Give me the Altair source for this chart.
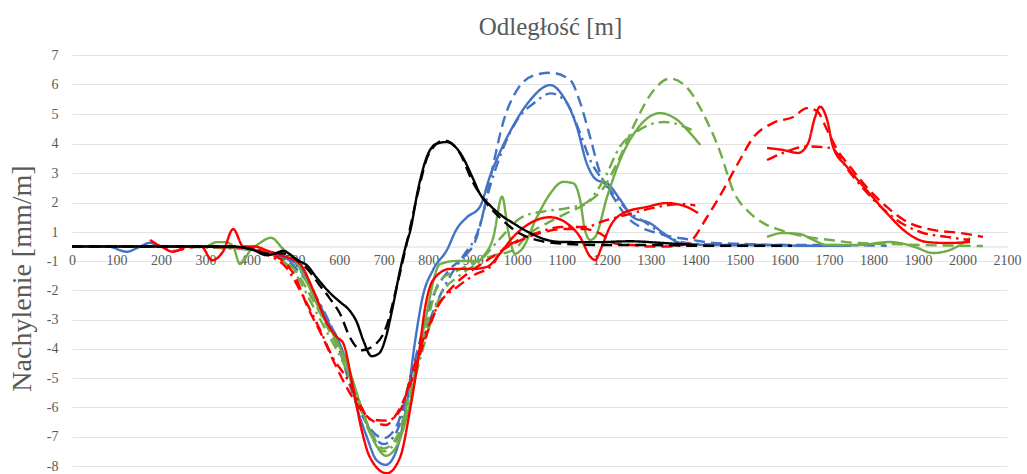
import altair as alt
import pandas as pd

# ---- x ticks / y ticks ----
X_TICKS = list(range(0, 2101, 100))
Y_TICKS = [7, 6, 5, 4, 3, 2, 1, -1, -2, -3, -4, -5, -6, -7, -8]

# ---- black ----
BS_X = [0, 100, 200, 300, 362, 407, 437, 455, 474, 490, 505, 527, 550, 580, 602, 624, 640, 654, 673, 690, 705, 720, 737, 752, 759, 778, 797, 820, 842, 871, 901, 916, 939, 961, 991, 1029, 1067, 1103, 1179, 1253, 1328, 1404]
BS_Y = [0, 0, 0, 0, 0, -0.24, -0.6, -0.5, -0.3, -0.55, -0.93, -1.14, -1.58, -2.1, -2.4, -2.7, -3.1, -3.7, -4.25, -4.15, -3.6, -2.6, -1.3, 0.3, 1.0, 2.5, 3.55, 4.0, 4.05, 3.7, 2.8, 2.3, 1.9, 1.6, 1.3, 0.93, 0.45, 0.31, 0.3, 0.36, 0.24, 0.1]
BD_X = [0, 100, 200, 300, 362, 407, 437, 460, 480, 505, 530, 555, 580, 602, 624, 651, 677, 707, 729, 752, 778, 800, 835, 870, 900, 930, 960, 1000, 1050, 1100, 1200, 1300, 1400, 1500, 1617]
BD_Y = [0, 0, 0, 0, 0, -0.2, -0.5, -0.45, -0.5, -0.9, -1.3, -1.8, -2.3, -2.8, -3.6, -4.05, -3.9, -3.2, -1.9, 0.24, 2.4, 3.6, 4.1, 3.7, 2.7, 2.0, 1.5, 1.0, 0.4, 0.2, 0.1, 0.1, 0.05, 0.05, 0.05]

# ---- blue ----
US_X = [0, 80, 123, 150, 175, 200, 300, 400, 440, 480, 512, 542, 572, 595, 617, 640, 662, 684, 705, 729, 752, 770, 788, 811, 842, 864, 887, 916, 939, 961, 991, 1029, 1074, 1103, 1134, 1156, 1179, 1202, 1231, 1260, 1298, 1328, 1359, 1381, 1450, 1550, 1650, 1750]
US_Y = [0, 0, -0.36, -0.05, 0.25, 0, 0, -0.2, -0.4, -0.8, -1.2, -2.1, -3.0, -3.6, -4.5, -6.0, -7.0, -7.8, -7.96, -7.45, -5.85, -3.8, -2.2, -1.3, -0.24, 1.1, 1.5, 1.85, 2.9, 3.7, 4.6, 5.47, 5.98, 5.6, 4.56, 3.33, 2.76, 2.65, 2.1, 1.5, 1.3, 0.93, 0.31, 0.17, 0.1, 0.1, 0.05, 0.05]
UD_X = [0, 100, 200, 300, 400, 450, 500, 540, 572, 600, 630, 660, 700, 730, 760, 788, 811, 842, 887, 905, 923, 945, 970, 999, 1036, 1074, 1119, 1141, 1164, 1186, 1215, 1247, 1276, 1314, 1350, 1395, 1440, 1485, 1600, 1700, 1830]
UD_Y = [0, 0, 0, 0, -0.2, -0.5, -1.2, -2.0, -3.0, -4.0, -5.5, -6.5, -7.05, -6.6, -5.0, -3.35, -2.2, -1.4, -0.5, 0.3, 1.6, 3.2, 4.8, 5.8, 6.3, 6.4, 6.15, 5.4, 4.2, 3.0, 2.2, 1.5, 1.17, 0.93, 0.66, 0.45, 0.24, 0.2, 0.1, 0.1, 0.05]
UT_X = [0, 200, 400, 450, 500, 540, 575, 610, 640, 670, 700, 730, 760, 790, 820, 850, 880, 910, 940, 970, 1000, 1040, 1075, 1110, 1140, 1165, 1190, 1215, 1250, 1290, 1330, 1370, 1400, 1500, 1600]
UT_Y = [0, 0, -0.2, -0.5, -1.1, -2.0, -3.0, -4.2, -5.6, -6.8, -7.25, -6.8, -5.2, -3.6, -2.4, -1.5, -0.6, 0.9, 2.6, 3.9, 4.8, 5.4, 5.7, 5.4, 4.4, 3.4, 2.8, 2.3, 1.7, 1.3, 0.8, 0.3, 0.2, 0.1, 0.1]

# ---- green ----
GS1_X = [0, 100, 200, 300, 325, 345, 362, 377, 400, 420, 447, 475, 500, 530, 560, 590, 620, 650, 680, 705, 730, 760, 790, 827, 864, 914, 923, 946, 966, 980, 995, 1010, 1044, 1074, 1103, 1126, 1141, 1152, 1164, 1175, 1202, 1231, 1268, 1321, 1359, 1388, 1411]
GS1_Y = [0, 0, 0, 0, 0.3, 0.3, 0, -1.1, -0.3, 0.2, 0.6, -0.2, -0.9, -1.8, -2.8, -3.6, -4.6, -6.0, -7.2, -7.65, -7.3, -5.8, -3.3, -1.1, -1.0, -1.0, -0.7, 0.6, 2.2, 1.0, -0.5, -0.2, 1.5, 2.3, 2.7, 2.65, 2.1, 1.07, 0.45, 0.66, 2.2, 3.44, 4.46, 5.03, 4.8, 4.36, 3.95]
GS2_X = [1561, 1597, 1635, 1665, 1696, 1763, 1837, 1890, 1934, 1972, 2017]
GS2_Y = [0.66, 0.93, 0.86, 0.45, 0.1, 0.1, 0.31, 0, -0.45, -0.24, 0.59]
GD_X = [0, 100, 200, 300, 400, 450, 500, 540, 575, 610, 640, 670, 700, 730, 760, 790, 827, 870, 916, 950, 991, 1029, 1067, 1111, 1156, 1194, 1231, 1268, 1306, 1343, 1381, 1418, 1456, 1485, 1523, 1553, 1590, 1650, 1703, 1763, 1837, 1911, 2046]
GD_Y = [0, 0, 0, 0, -0.2, -0.6, -1.3, -2.3, -3.3, -4.4, -5.6, -6.8, -7.4, -7.0, -5.4, -3.6, -1.65, -1.3, -0.93, -0.6, -0.24, 0.93, 1.3, 1.64, 1.98, 2.5, 3.55, 4.8, 5.8, 6.2, 5.9, 5.0, 3.7, 2.4, 1.64, 1.3, 1.07, 0.66, 0.45, 0.24, 0.17, 0.1, 0.03]
GT_X = [0, 200, 400, 450, 500, 540, 575, 610, 640, 670, 700, 730, 760, 790, 827, 870, 916, 960, 1010, 1060, 1110, 1156, 1194, 1231, 1268, 1300, 1330, 1370, 1400]
GT_Y = [0, 0, -0.2, -0.6, -1.4, -2.5, -3.5, -4.5, -5.7, -6.9, -7.5, -7.1, -5.6, -3.9, -2.2, -1.5, -1.0, 0.5, 1.5, 1.7, 1.8, 2.0, 2.76, 3.9, 4.4, 4.65, 4.73, 4.6, 4.4]

# ---- red ----
RS1_X = [175, 200, 227, 260, 290, 315, 340, 362, 385, 410, 440, 470, 512, 542, 572, 595, 609, 631, 651, 669, 707, 737, 759, 778, 793, 811, 849, 901, 932, 961, 991, 1029, 1074, 1111, 1141, 1164, 1175, 1190, 1208, 1238, 1291, 1336, 1381, 1406]
RS1_Y = [0.45, 0.0, -0.36, 0, 0, -0.95, -0.3, 1.1, 0, 0, -0.3, -0.6, -1.1, -2.0, -3.1, -3.6, -3.8, -5.3, -6.8, -7.7, -8.25, -7.7, -6.1, -4.3, -2.6, -1.65, -1.27, -1.27, -1.2, -0.5, 0.66, 1.3, 1.5, 1.3, 0.66, -0.7, -0.93, 0, 1.17, 1.64, 1.85, 1.98, 1.85, 1.64]
RS2_X = [1561, 1597, 1631, 1653, 1669, 1680, 1696, 1709, 1741, 1786, 1830, 1876, 1920, 1965, 2017]
RS2_Y = [3.85, 3.78, 3.68, 4.0, 4.9, 5.25, 4.8, 3.9, 3.2, 2.4, 1.64, 0.93, 0.31, 0.24, 0.31]
RD_X = [0, 100, 200, 230, 260, 300, 400, 440, 470, 500, 530, 560, 590, 620, 650, 680, 705, 730, 760, 790, 820, 860, 900, 940, 980, 1020, 1060, 1100, 1150, 1186, 1220, 1260, 1300, 1340, 1370, 1388, 1426, 1462, 1500, 1530, 1575, 1620, 1651, 1673, 1696, 1718, 1748, 1786, 1830, 1876, 1934, 1995, 2046]
RD_Y = [0, 0, 0, -0.3, -0.1, 0, -0.1, -0.5, -0.9, -1.5, -2.6, -3.5, -4.5, -5.4, -6.1, -6.5, -6.6, -6.2, -5.2, -3.8, -2.6, -1.8, -1.3, -0.8, 0, 0.6, 1.0, 1.1, 1.1, 0.9, 0.2, 0.1, 0, 0, 0.1, 0.31, 1.5, 2.4, 3.44, 4.2, 4.7, 4.9, 5.2, 5.1, 4.46, 3.8, 3.2, 2.5, 1.85, 1.34, 1.07, 0.93, 0.66]
RT1_X = [0, 200, 400, 440, 480, 519, 557, 586, 617, 647, 669, 707, 737, 766, 797, 827, 864, 901, 946, 961, 1000, 1050, 1100, 1150, 1200, 1250, 1300, 1370, 1400]
RT1_Y = [0, 0, -0.1, -0.6, -1.2, -2.2, -3.35, -4.3, -5.0, -5.9, -6.4, -6.45, -6.1, -4.7, -3.35, -2.4, -1.9, -1.5, -1.1, -0.45, 0.4, 1.0, 1.17, 1.17, 1.4, 1.6, 1.8, 1.95, 1.9]
RT2_X = [1561, 1600, 1650, 1703, 1748, 1800, 1853, 1905, 1965, 2017]
RT2_Y = [3.44, 3.7, 3.9, 3.85, 3.0, 2.1, 1.4, 1.0, 0.66, 0.45]

SERIES = [
    ("b_s", "blue", "solid", US_X, US_Y),
    ("b_d", "blue", "dash", UD_X, UD_Y),
    ("b_t", "blue", "dashdot", UT_X, UT_Y),
    ("g_s1", "green", "solid", GS1_X, GS1_Y),
    ("g_s2", "green", "solid", GS2_X, GS2_Y),
    ("g_d", "green", "dash", GD_X, GD_Y),
    ("g_t", "green", "dashdot", GT_X, GT_Y),
    ("r_s1", "red", "solid", RS1_X, RS1_Y),
    ("r_s2", "red", "solid", RS2_X, RS2_Y),
    ("r_d", "red", "dash", RD_X, RD_Y),
    ("r_t1", "red", "dashdot", RT1_X, RT1_Y),
    ("r_t2", "red", "dashdot", RT2_X, RT2_Y),
    ("k_s", "black", "solid", BS_X, BS_Y),
    ("k_d", "black", "dash", BD_X, BD_Y),
]

rows = []
for order, (sid, grp, sty, xs, ys) in enumerate(SERIES):
    for x, y in zip(xs, ys):
        rows.append({"sid": f"{order:02d}_{sid}", "grp": grp, "sty": sty, "x": x, "y": y})
df = pd.DataFrame(rows)

W, H = 935, 411
FONT = "'Liberation Serif', 'Times New Roman', 'DejaVu Serif', serif"
GREY = "#595959"

yscale = alt.Scale(domain=[-8, -1, 1, 7], range=[H, 206, 177, 0], nice=False, zero=False)
xscale = alt.Scale(domain=[0, 2100], nice=False, zero=False)

chart = alt.Chart(df).mark_line(interpolate="monotone", strokeWidth=2.4).encode(
    x=alt.X("x:Q", scale=xscale,
            axis=alt.Axis(values=X_TICKS, title=None, grid=False, ticks=False, format="d",
                          domainColor="#d9d9d9", domainWidth=1,
                          offset=-(H - 191.5), labelFont=FONT, labelFontSize=14,
                          labelColor=GREY, labelPadding=7, labelFlush=False)),
    y=alt.Y("y:Q", scale=yscale,
            axis=alt.Axis(values=Y_TICKS, title="Nachylenie [mm/m]", grid=True,
                          gridColor="#e3e3e3", domain=False, ticks=False,
                          labelExpr="datum.value + ''",
                          labelFont=FONT, labelFontSize=14, labelColor=GREY,
                          labelPadding=14,
                          titleFont=FONT, titleFontSize=28, titleFontWeight="normal",
                          titleColor=GREY, titleX=-50, titleY=223,
                          titleBaseline="middle", titleAlign="center", titleAngle=270)),
    color=alt.Color("grp:N", legend=None,
                    scale=alt.Scale(domain=["black", "blue", "green", "red"],
                                    range=["#000000", "#4472C4", "#70AD47", "#FF0000"])),
    strokeDash=alt.StrokeDash("sty:N", legend=None,
                              scale=alt.Scale(domain=["solid", "dash", "dashdot"],
                                              range=[[1, 0], [11, 6], [11, 5, 2.5, 5]])),
    detail="sid:N",
).properties(
    width=W, height=H,
    title=alt.TitleParams("Odległość [m]", font=FONT, fontSize=25, fontWeight="normal",
                          color=GREY, anchor="middle", dx=11, offset=8),
    autosize=alt.AutoSizeParams(type="none"),
    padding={"left": 72, "top": 55, "right": 20, "bottom": 8},
).configure_view(stroke=None)

chart.save("out.html", embed_options={"renderer": "svg", "actions": False})
